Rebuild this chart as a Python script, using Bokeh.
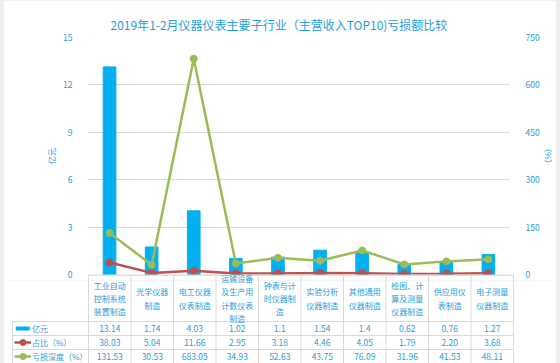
from bokeh.plotting import figure
from bokeh.layouts import column
from bokeh.models import (Range1d, LinearAxis, FixedTicker, Title, BoxAnnotation)
from bokeh.core.properties import value
from bokeh.embed import file_html
from bokeh.resources import INLINE

# ---------------- data ----------------
title_text = "2019年1-2月仪器仪表主要子行业（主营收入TOP10)亏损额比较"
categories = [
    "工业自动\n控制系统\n装置制造",
    "光学仪器\n制造",
    "电工仪器\n仪表制造",
    "运输设备\n及生产用\n计数仪表\n制造",
    "钟表与计\n时仪器制\n造",
    "实验分析\n仪器制造",
    "其他通用\n仪器制造",
    "绘图、计\n算及测量\n仪器制造",
    "供应用仪\n表制造",
    "电子测量\n仪器制造",
]
loss_yi = [13.14, 1.74, 4.03, 1.02, 1.1, 1.54, 1.4, 0.62, 0.76, 1.27]
share_pct = [38.03, 5.04, 11.66, 2.95, 3.18, 4.46, 4.05, 1.79, 2.20, 3.68]
depth_pct = [131.53, 30.53, 683.05, 34.93, 52.63, 43.75, 76.09, 31.96, 41.53, 48.11]
left_ticks = [0, 3, 6, 9, 12, 15]
right_ticks = [0, 150, 300, 450, 600, 750]
series_names = ["亿元", "占比（%）", "亏损深度（%）"]
left_title = "亿元"
right_title = "（%）"

# ---------------- style ----------------
FONT = "Noto Sans CJK SC"
BLUE = "#1F9DD9"
BAR = "#00B0F0"
RED = "#C0504D"
GREEN = "#9BBB59"
GRID = "#D9D9D9"
AXIS = "#BFBFBF"
PAGE_BG = "#EEEEEE"
FS_NUM = "8.5px"
FS_CJK = "8px"

# page-pixel geometry (chart area spans x 3..556 on a light grey page)
PAGE_W = 560
C_L, C_R = 3, 556
W = C_R - C_L
FR_L, FR_R, FR_T, FR_B = 88, 513, 37, 274
A_BOTTOM = 280          # chart figure bottom (room for the "0" tick labels)
T_BOTTOM = 363
PXX = (FR_R - FR_L) / 10.0
N = len(categories)
xs = [i + 0.5 for i in range(N)]

# ================= chart figure =================
pa = figure(width=W, height=A_BOTTOM, output_backend="svg", toolbar_location=None,
            x_range=Range1d(0, N), y_range=Range1d(left_ticks[0], left_ticks[-1]),
            x_axis_location=None,
            min_border_left=FR_L - C_L, min_border_right=C_R - FR_R,
            min_border_top=FR_T, min_border_bottom=A_BOTTOM - FR_B)
pa.frame_align = False
pa.margin = (0, 0, 0, C_L)
pa.outline_line_color = None
pa.border_fill_color = "white"
pa.extra_y_ranges = {"pct": Range1d(right_ticks[0], right_ticks[-1])}

pa.title = Title(text=title_text, align="left", offset=22, standoff=6,
                 vertical_align="top",
                 text_font=FONT, text_font_size="12px", text_font_style="normal",
                 text_color=BLUE)

la = pa.yaxis[0]
la.ticker = FixedTicker(ticks=left_ticks)
la.axis_label = left_title
la.axis_label_standoff = 3
ra = LinearAxis(y_range_name="pct", ticker=FixedTicker(ticks=right_ticks),
                axis_label=right_title, axis_label_standoff=0)
pa.add_layout(ra, "right")
for ax in (la, ra):
    ax.axis_line_color = None
    ax.major_tick_line_color = None
    ax.minor_tick_line_color = None
    ax.major_label_text_color = BLUE
    ax.major_label_text_font = FONT
    ax.major_label_text_font_size = FS_NUM
    ax.major_label_standoff = 10
    ax.axis_label_text_color = BLUE
    ax.axis_label_text_font = FONT
    ax.axis_label_text_font_size = FS_CJK
    ax.axis_label_text_font_style = "normal"

pa.xgrid.visible = False
pa.ygrid.ticker = FixedTicker(ticks=left_ticks)
pa.ygrid.grid_line_color = GRID

pa.vbar(x=xs, top=loss_yi, width=0.3, color=BAR)
pa.line(x=xs, y=share_pct, y_range_name="pct", line_color=RED, line_width=2.5)
pa.scatter(x=xs, y=share_pct, y_range_name="pct", size=7, color=RED)
pa.line(x=xs, y=depth_pct, y_range_name="pct", line_color=GREEN, line_width=2.5)
pa.scatter(x=xs, y=depth_pct, y_range_name="pct", size=7, color=GREEN)


def px2x(px):
    return (px - FR_L) / PXX


# ================= data table figure (overlaps the chart bottom border) =================
LEG_L = 12
CAT_END, ROW2, ROW3 = 321, 335, 349
pb = figure(width=W, height=T_BOTTOM - FR_B, output_backend="svg", toolbar_location=None,
            x_range=Range1d(px2x(C_L), px2x(C_R)),
            y_range=Range1d(T_BOTTOM, FR_B),
            x_axis_location=None, y_axis_location=None,
            min_border_left=0, min_border_right=0,
            min_border_top=0, min_border_bottom=0)
pb.frame_align = False
pb.margin = (FR_B - A_BOTTOM, 0, 0, C_L)
pb.outline_line_color = None
pb.border_fill_alpha = 0
pb.background_fill_alpha = 0
pb.xgrid.visible = False
pb.ygrid.visible = False
# white chart background below the chart figure (top strip stays transparent)
pb.add_layout(BoxAnnotation(top=A_BOTTOM, fill_color="white", fill_alpha=1,
                            line_color=None, level="underlay"))

leg_x = px2x(LEG_L)

# table grid lines
pb.segment(x0=[0], y0=[FR_B + 0.5], x1=[N], y1=[FR_B + 0.5], line_color=AXIS, line_width=1)
hy = [CAT_END, ROW2, ROW3]
pb.segment(x0=[leg_x] * 3, y0=hy, x1=[N] * 3, y1=hy, line_color=GRID, line_width=1)
vxs = list(range(N + 1)) + [leg_x]
vy0 = [FR_B] * (N + 1) + [CAT_END]
pb.segment(x0=vxs, y0=vy0, x1=vxs, y1=[T_BOTTOM] * len(vxs), line_color=GRID, line_width=1)

# category labels
pb.text(x=xs, y=[(FR_B + CAT_END) / 2 + 0.5] * N, text=categories, text_align="center",
        text_baseline="middle", text_font=value(FONT), text_font_size=FS_CJK,
        text_line_height=1.22, text_color=BLUE)

# values
row_y = [(CAT_END + ROW2) / 2, (ROW2 + ROW3) / 2, (ROW3 + T_BOTTOM) / 2]
pb.text(x=xs, y=[row_y[0]] * N, text=[str(v) for v in loss_yi], text_align="center",
        text_baseline="middle", text_font=value(FONT), text_font_size=FS_NUM, text_color=BLUE)
pb.text(x=xs, y=[row_y[1]] * N, text=[f"{v:.2f}" for v in share_pct], text_align="center",
        text_baseline="middle", text_font=value(FONT), text_font_size=FS_NUM, text_color=BLUE)
pb.text(x=xs, y=[row_y[2]] * N, text=[f"{v:.2f}" for v in depth_pct], text_align="center",
        text_baseline="middle", text_font=value(FONT), text_font_size=FS_NUM, text_color=BLUE)

# series keys in the table's first column
k0, k1, kc = px2x(14), px2x(30.5), px2x(22.5)
pb.segment(x0=[k0 + 0.03], y0=[row_y[0]], x1=[k1 - 0.03], y1=[row_y[0]],
           line_color=BAR, line_width=4)
pb.segment(x0=[k0, k0], y0=row_y[1:], x1=[k1, k1], y1=row_y[1:],
           line_color=[RED, GREEN], line_width=2.5)
pb.scatter(x=[kc, kc], y=row_y[1:], size=6, color=[RED, GREEN])
pb.text(x=[px2x(31.5)] * 3, y=row_y, text=series_names, text_align="left",
        text_baseline="middle", text_font=value(FONT), text_font_size=FS_CJK, text_color=BLUE)

layout = column(pa, pb, spacing=0, width=PAGE_W,
                styles={"background-color": PAGE_BG})
open("out.html", "w").write(file_html(layout, INLINE))
